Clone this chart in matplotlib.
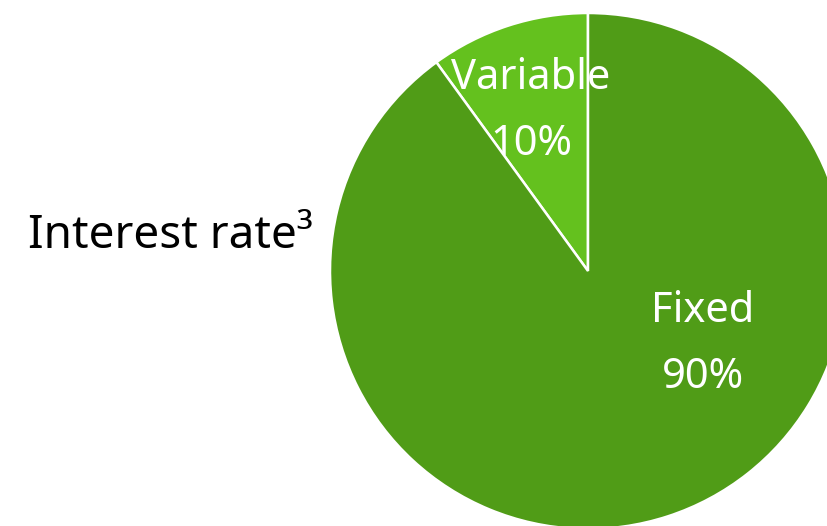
import matplotlib.pyplot as plt

# interest rate split
labels = ['Variable', 'Fixed']
shares = [10, 90]
colors = ['#64C11E', '#509C17']

plt.rcParams['font.family'] = ['Noto Sans', 'DejaVu Sans']

fig = plt.figure(figsize=(8.28, 5.26), dpi=100)
ax = fig.add_axes([0, 0, 1, 1])

# pixel-style coordinates, origin bottom left
cx, cy, r = 588, 255, 258
ax.pie(shares, colors=colors, startangle=90, counterclock=True,
       center=(cx, cy), radius=r,
       wedgeprops=dict(edgecolor='white', linewidth=1.8))
ax.set_xlim(0, 828)
ax.set_ylim(0, 526)
ax.set_aspect('equal')
ax.axis('off')

# label offsets from the pie centre
offsets = [(-57, 160), (115, -73)]
for name, val, (dx, dy) in zip(labels, shares, offsets):
    ax.text(cx + dx, cy + dy, f"{name}\n{val}%", color='white', fontsize=30,
            ha='center', va='center', linespacing=1.73)

ax.text(28, 290, "Interest rate³", fontsize=33, ha='left', va='center',
        color='black')

fig.savefig('out.png', dpi=100)
